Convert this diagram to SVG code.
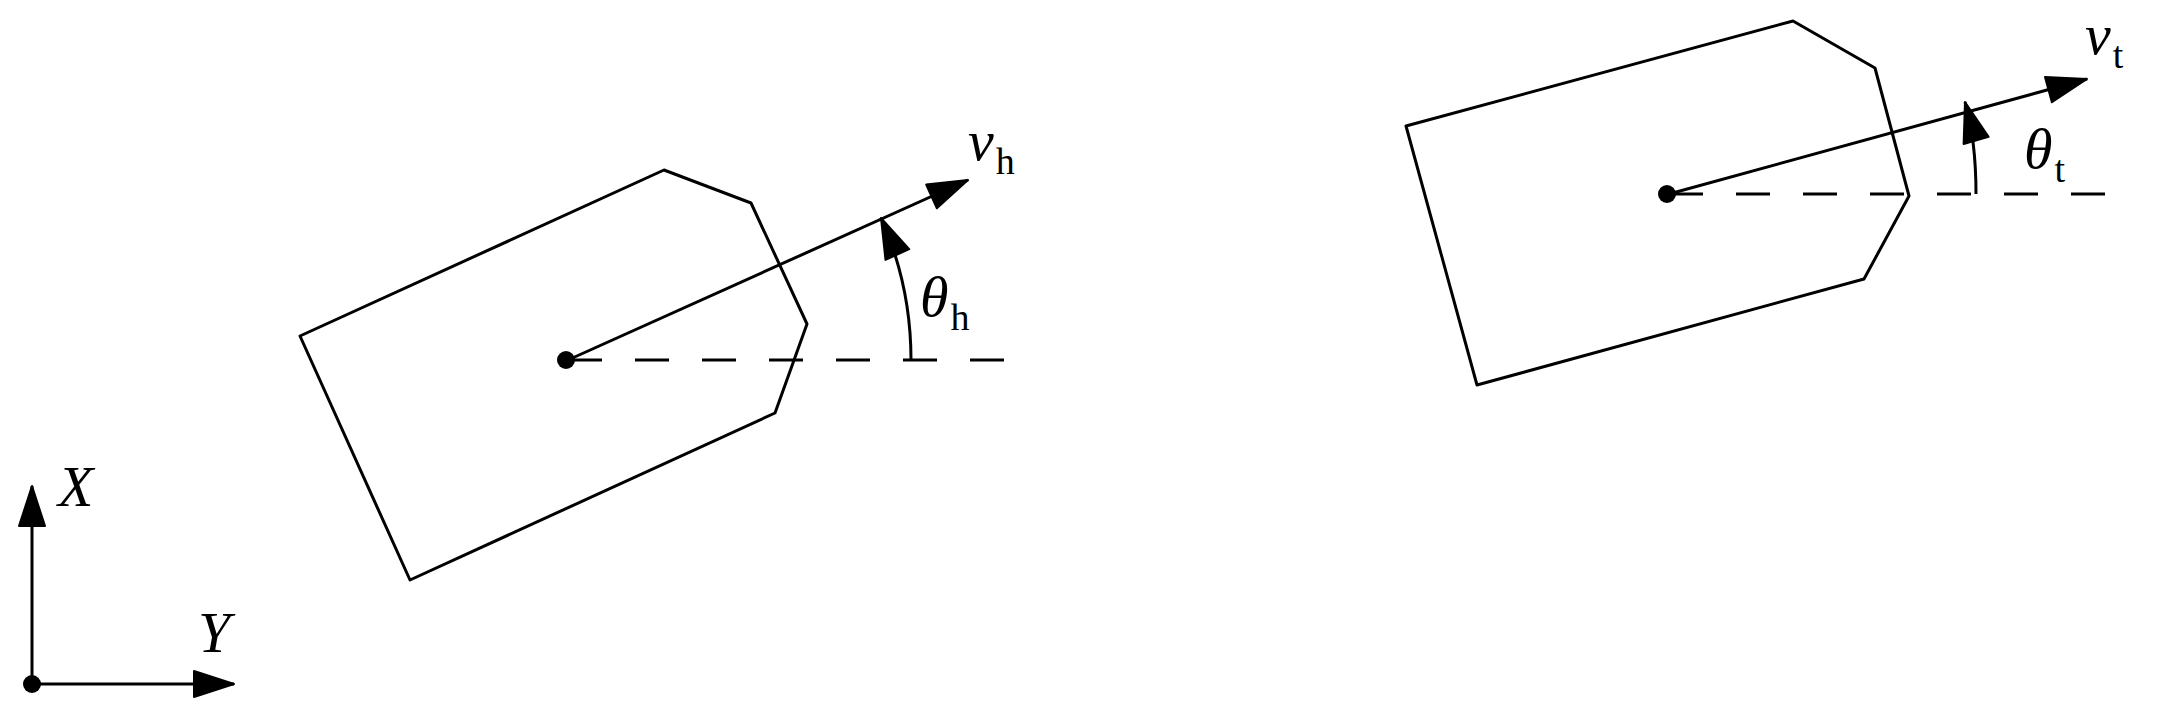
<svg xmlns="http://www.w3.org/2000/svg" width="2166" height="714" viewBox="0 0 2166 714">
<style>
.s{fill:none;stroke:#000;stroke-width:3;stroke-linejoin:round}
.d{fill:none;stroke:#000;stroke-width:3;stroke-dasharray:34 33}
.t{font-family:"Liberation Serif","DejaVu Serif",serif;font-style:italic;font-size:58px}
.b{font-family:"Liberation Serif","DejaVu Serif",serif;font-style:normal;font-size:38px}
</style>
<defs>
<marker id="a" markerUnits="userSpaceOnUse" markerWidth="46" markerHeight="34" refX="42" refY="15" orient="auto">
<path d="M2,2 L42,15 L2,28 Z" fill="#000" stroke="#000" stroke-width="2" stroke-linejoin="round"/>
</marker>
</defs>
<g id="connectors">
<path class="d" d="M568,360 H1005"/>
<path class="d" d="M1669,194 H2105"/>
<path class="s" d="M568,360 L968,180" marker-end="url(#a)"/>
<path class="s" d="M1669,194 L2087,79" marker-end="url(#a)"/>
<path class="s" d="M911,360 Q911,285 881,218" marker-end="url(#a)"/>
<path class="s" d="M1976,194 Q1976,140 1965,102" marker-end="url(#a)"/>
<path class="s" d="M32,684 V486" marker-end="url(#a)"/>
<path class="s" d="M32,684 H234" marker-end="url(#a)"/>
</g>
<g id="left-body"><path class="s" d="M300,336 L664,170 L751,203 L807,324 L775,413 L410,580 Z"/><circle cx="566" cy="360" r="9"/></g>
<g id="right-body"><path class="s" d="M1406,126 L1793,21 L1875,68 L1909,196 L1864,279 L1477,385 Z"/><circle cx="1667" cy="194" r="9"/></g>
<g id="origin"><circle cx="32" cy="684" r="9"/></g>
<g id="labels">
<text class="t" x="968" y="160">v<tspan class="b" dx="2" dy="14">h</tspan></text>
<text class="t" x="920" y="316">θ<tspan class="b" dx="2" dy="14">h</tspan></text>
<text class="t" x="2085" y="54">v<tspan class="b" dx="2" dy="14">t</tspan></text>
<text class="t" x="2024" y="168">θ<tspan class="b" dx="2" dy="14">t</tspan></text>
<text class="t" x="58" y="506">X</text>
<text class="t" x="198" y="652">Y</text>
</g>
</svg>
